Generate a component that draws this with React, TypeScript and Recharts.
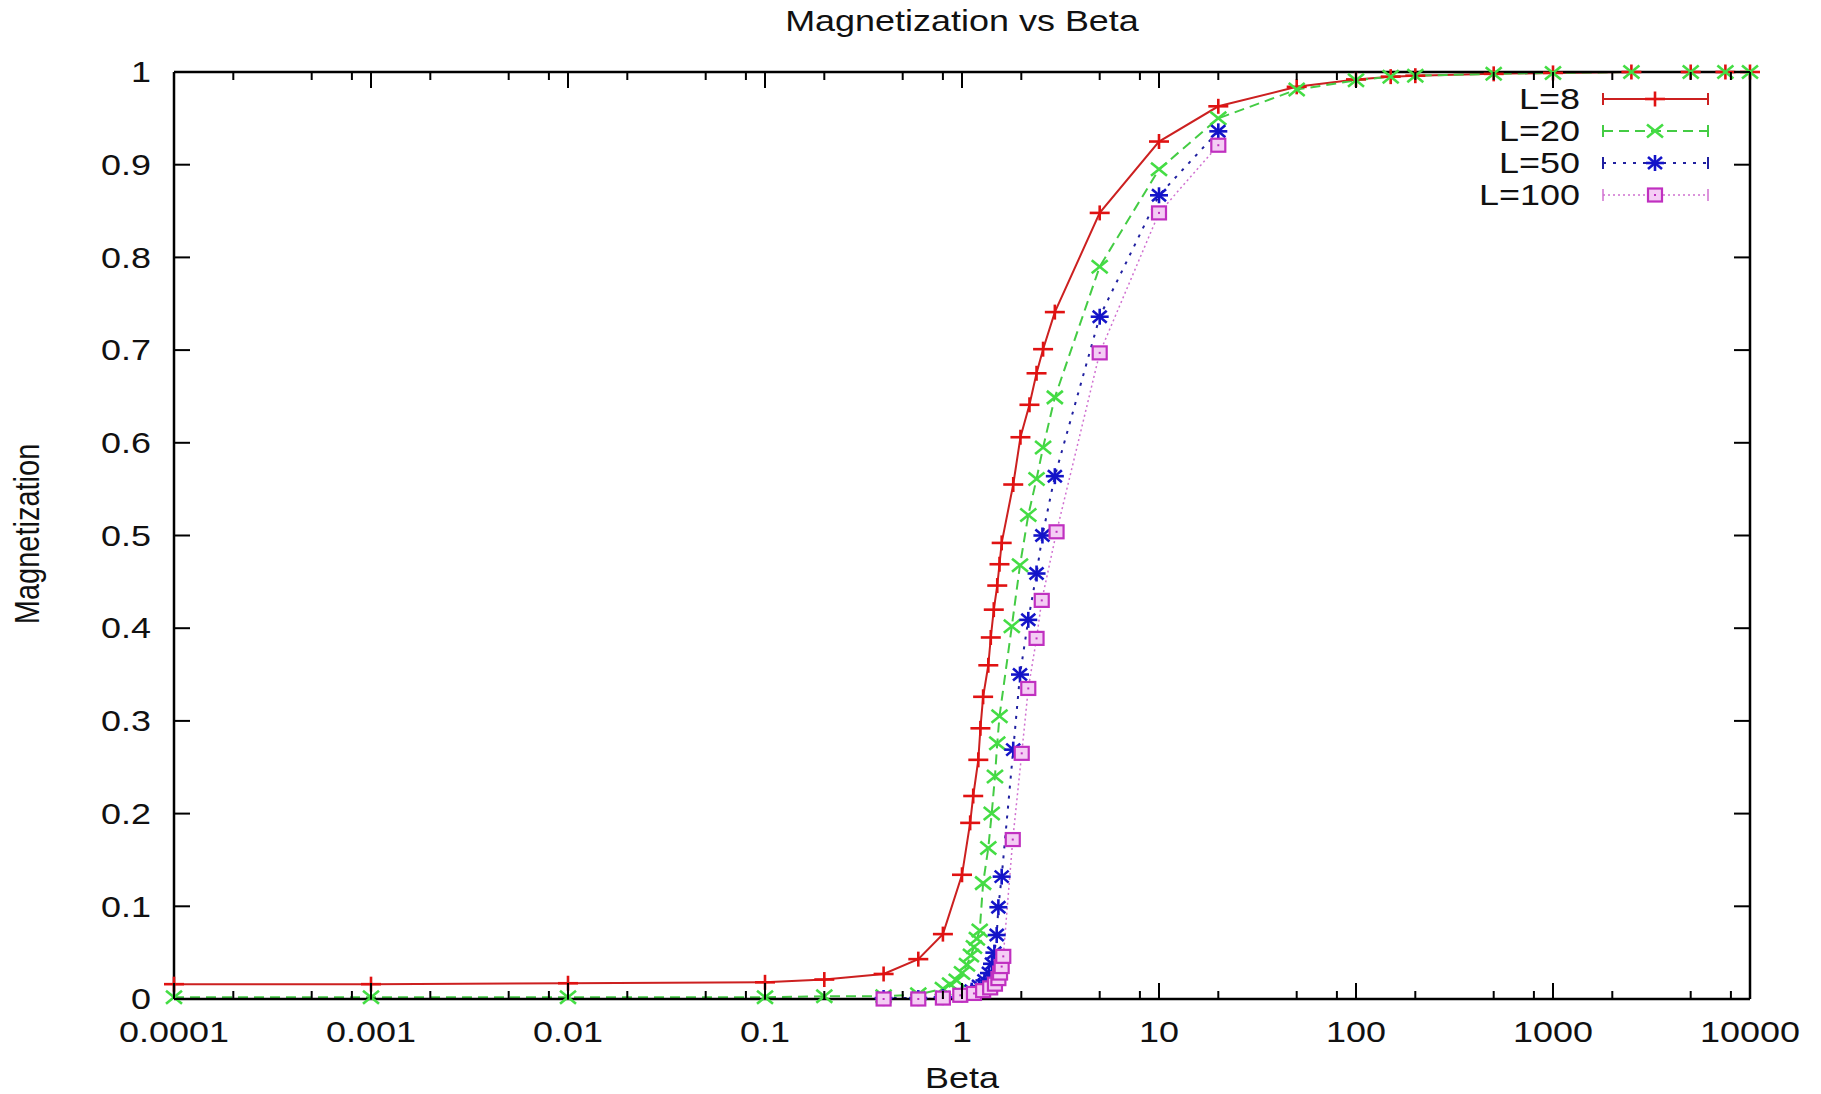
import React from 'react';
import { ComposedChart, Line, XAxis, YAxis, Legend } from 'recharts';

// Datos (beta, magnetización) por tamaño de red
const L8_BETA = [0.0001, 0.001, 0.01, 0.1, 0.2, 0.4, 0.6, 0.8, 1.0, 1.1, 1.14, 1.21, 1.24, 1.28, 1.36, 1.4, 1.45, 1.51, 1.55, 1.59, 1.82, 1.98, 2.2, 2.39, 2.58, 2.96, 5, 10, 20, 50, 100, 150, 200, 500, 1000, 2500, 5000, 7500, 10000];
const L8_M = [0.016, 0.016, 0.017, 0.018, 0.021, 0.027, 0.043, 0.070, 0.134, 0.190, 0.219, 0.258, 0.292, 0.326, 0.360, 0.390, 0.420, 0.446, 0.469, 0.492, 0.555, 0.606, 0.641, 0.675, 0.701, 0.741, 0.848, 0.925, 0.963, 0.984, 0.992, 0.995, 0.996, 0.998, 0.999, 1, 1, 1, 1];

const L20_BETA = [0.0001, 0.001, 0.01, 0.1, 0.2, 0.4, 0.6, 0.8, 0.87, 0.94, 1.0, 1.06, 1.11, 1.15, 1.19, 1.23, 1.28, 1.36, 1.415, 1.47, 1.51, 1.55, 1.79, 1.97, 2.17, 2.39, 2.58, 2.96, 5, 10, 20, 50, 100, 150, 200, 500, 1000, 2500, 5000, 7500, 10000];
const L20_M = [0.002, 0.002, 0.002, 0.002, 0.003, 0.003, 0.005, 0.011, 0.016, 0.020, 0.028, 0.037, 0.047, 0.056, 0.065, 0.074, 0.125, 0.163, 0.200, 0.240, 0.276, 0.305, 0.402, 0.468, 0.522, 0.561, 0.595, 0.649, 0.790, 0.895, 0.950, 0.981, 0.991, 0.995, 0.996, 0.998, 0.999, 1, 1, 1, 1];

const L50_BETA = [0.4, 0.6, 0.8, 1.0, 1.12, 1.22, 1.3, 1.37, 1.42, 1.46, 1.5, 1.53, 1.59, 1.82, 1.97, 2.17, 2.39, 2.56, 2.96, 5, 10, 20];
const L50_M = [0.001, 0.001, 0.002, 0.005, 0.009, 0.014, 0.020, 0.028, 0.038, 0.050, 0.069, 0.099, 0.132, 0.269, 0.350, 0.409, 0.459, 0.500, 0.564, 0.736, 0.867, 0.936];

const L100_BETA = [0.4, 0.6, 0.8, 0.98, 1.15, 1.28, 1.39, 1.47, 1.53, 1.56, 1.59, 1.62, 1.81, 2.01, 2.17, 2.39, 2.54, 3.02, 5, 10, 20];
const L100_M = [0.0, 0.0, 0.001, 0.004, 0.006, 0.009, 0.012, 0.016, 0.022, 0.028, 0.035, 0.046, 0.172, 0.265, 0.335, 0.389, 0.430, 0.504, 0.697, 0.848, 0.921];

const X_TICKS = [0.0001, 0.001, 0.01, 0.1, 1, 10, 100, 1000, 10000];
const X_LABELS = ['0.0001', '0.001', '0.01', '0.1', '1', '10', '100', '1000', '10000'];
const X_MINOR = [2, 5, 8];
const Y_TICKS = [0, 0.1, 0.2, 0.3, 0.4, 0.5, 0.6, 0.7, 0.8, 0.9, 1];
const Y_LABELS = ['0', '0.1', '0.2', '0.3', '0.4', '0.5', '0.6', '0.7', '0.8', '0.9', '1'];

const SERIES_NAMES = ['L=8', 'L=20', 'L=50', 'L=100'];

const FONT = '"Liberation Sans", Arial, sans-serif';
const FS = 29;
const SX = 1.24; // la figura original está estirada en horizontal

type Kind = 'plus' | 'cross' | 'star' | 'box';

const STYLE: { kind: Kind; mark: string; line: string; dash?: string; width: number }[] = [
  { kind: 'plus', mark: '#e01212', line: '#cc2020', width: 2 },
  { kind: 'cross', mark: '#44dd44', line: '#44cc44', dash: '10 6', width: 2 },
  { kind: 'star', mark: '#1414c8', line: '#2020a0', dash: '3 7', width: 2 },
  { kind: 'box', mark: '#c030c0', line: '#d070d0', dash: '2 3', width: 1.5 },
];

const pts = (b: number[], m: number[]) => b.map((x, i) => ({ b: x, m: m[i] }));

const allXTicks = X_TICKS.flatMap((v, i) => (i < X_TICKS.length - 1 ? [v, ...X_MINOR.map(k => v * k)] : [v]));
const majorIndex = (v: number) => X_TICKS.findIndex(t => Math.abs(t - v) / t < 1e-6);

const STxt = ({ x, y, anchor = 'middle', rotate = 0, children }: any) => (
  <text
    transform={`translate(${x},${y}) scale(${SX},1)${rotate ? ` rotate(${rotate})` : ''}`}
    textAnchor={anchor} dominantBaseline="central" fontFamily={FONT} fontSize={FS} fill="#111">
    {children}
  </text>
);

const Mark = ({ kind, cx, cy, color }: { kind: Kind; cx: number; cy: number; color: string }) => {
  if (cx == null || cy == null) return null;
  if (kind === 'plus') return (
    <g stroke={color} strokeWidth={2.6}>
      <line x1={cx - 10} x2={cx + 10} y1={cy} y2={cy}/>
      <line x1={cx} x2={cx} y1={cy - 7.5} y2={cy + 7.5}/>
    </g>
  );
  if (kind === 'cross') return (
    <g stroke={color} strokeWidth={2.6}>
      <line x1={cx - 8} x2={cx + 8} y1={cy - 6.5} y2={cy + 6.5}/>
      <line x1={cx - 8} x2={cx + 8} y1={cy + 6.5} y2={cy - 6.5}/>
    </g>
  );
  if (kind === 'star') return (
    <g stroke={color} strokeWidth={2.6}>
      <line x1={cx - 9} x2={cx + 9} y1={cy} y2={cy}/>
      <line x1={cx} x2={cx} y1={cy - 8} y2={cy + 8}/>
      <line x1={cx - 7} x2={cx + 7} y1={cy - 6} y2={cy + 6}/>
      <line x1={cx - 7} x2={cx + 7} y1={cy + 6} y2={cy - 6}/>
    </g>
  );
  return (
    <g>
      <rect x={cx - 7} y={cy - 6.5} width={14} height={13} fill="#f4cdf4" stroke={color} strokeWidth={2.2}/>
      <rect x={cx - 1} y={cy - 1} width={2} height={2} fill={color}/>
    </g>
  );
};

const dotFor = (kind: Kind, color: string) => (p: any) =>
  <Mark key={`${kind}-${p.index}`} kind={kind} cx={p.cx} cy={p.cy} color={color}/>;

// ticks hacia dentro + etiquetas (estilo gnuplot)
const BottomTick = ({ x, y, payload }: any) => {
  const i = majorIndex(payload.value);
  return (
    <g>
      <line x1={x} x2={x} y1={y} y2={y - (i >= 0 ? 16 : 8)} stroke="#000" strokeWidth={2}/>
      {i >= 0 && <STxt x={x} y={y + 33}>{X_LABELS[i]}</STxt>}
    </g>
  );
};
const TopTick = ({ x, y, payload }: any) => {
  const i = majorIndex(payload.value);
  return <line x1={x} x2={x} y1={y} y2={y + (i >= 0 ? 16 : 8)} stroke="#000" strokeWidth={2}/>;
};
const LeftTick = ({ x, y, payload, index }: any) => (
  <g>
    <line x1={x} x2={x + 16} y1={y} y2={y} stroke="#000" strokeWidth={2}/>
    <STxt x={x - 23} y={y} anchor="end">{Y_LABELS[index] ?? payload.value}</STxt>
  </g>
);
const RightTick = ({ x, y }: any) => <line x1={x} x2={x - 16} y1={y} y2={y} stroke="#000" strokeWidth={2}/>;

const LegendBox = () => (
  <svg width={320} height={140} style={{ overflow: 'visible', display: 'block' }}>
    {SERIES_NAMES.map((name, i) => {
      const s = STYLE[i];
      const y = 21 + i * 32;
      return (
        <g key={name}>
          <STxt x={140} y={y} anchor="end">{name}</STxt>
          <line x1={163} x2={268} y1={y} y2={y} stroke={s.line} strokeWidth={s.width} strokeDasharray={s.dash}/>
          <line x1={163} x2={163} y1={y - 6} y2={y + 6} stroke={s.line} strokeWidth={s.width}/>
          <line x1={268} x2={268} y1={y - 6} y2={y + 6} stroke={s.line} strokeWidth={s.width}/>
          <Mark kind={s.kind} cx={215} cy={y} color={s.mark}/>
        </g>
      );
    })}
  </svg>
);

const SERIES_DATA = [pts(L8_BETA, L8_M), pts(L20_BETA, L20_M), pts(L50_BETA, L50_M), pts(L100_BETA, L100_M)];

export default function App() {
  return (
    <div style={{ position: 'absolute', left: 0, top: 0, width: 1821, height: 1094, background: '#fff' }}>
      <ComposedChart width={1821} height={1094} margin={{ top: 71, right: 70, bottom: 94, left: 173 }}>
        <XAxis dataKey="b" type="number" scale="log" domain={[0.0001, 10000]} ticks={allXTicks} interval={0}
          height={1} tickSize={0} tickMargin={0} tickLine={false} tick={<BottomTick/>}
          axisLine={{ stroke: '#000', strokeWidth: 2.5 }}/>
        <XAxis xAxisId="top" orientation="top" dataKey="b" type="number" scale="log" domain={[0.0001, 10000]}
          allowDataOverflow ticks={allXTicks} interval={0} height={1} tickSize={0} tickMargin={0} tickLine={false}
          tick={<TopTick/>} axisLine={{ stroke: '#000', strokeWidth: 2.5 }}/>
        <YAxis type="number" domain={[0, 1]} ticks={Y_TICKS} interval={0} width={1} tickSize={0} tickMargin={0}
          tickLine={false} tick={<LeftTick/>} axisLine={{ stroke: '#000', strokeWidth: 2.5 }}/>
        <YAxis yAxisId="right" orientation="right" type="number" domain={[0, 1]} allowDataOverflow ticks={Y_TICKS}
          interval={0} width={1} tickSize={0} tickMargin={0} tickLine={false} tick={<RightTick/>}
          axisLine={{ stroke: '#000', strokeWidth: 2.5 }}/>
        <Legend verticalAlign="middle" align="center" content={() => <LegendBox/>}
          wrapperStyle={{ position: 'absolute', left: 1440, top: 78, width: 320, height: 140 }}/>
        {SERIES_DATA.map((d, i) => (
          <Line key={SERIES_NAMES[i]} name={SERIES_NAMES[i]} data={d} dataKey="m" type="linear"
            stroke={STYLE[i].line} strokeWidth={STYLE[i].width} strokeDasharray={STYLE[i].dash}
            dot={dotFor(STYLE[i].kind, STYLE[i].mark)} activeDot={false} isAnimationActive={false}/>
        ))}
      </ComposedChart>
      <svg width={1821} height={1094} style={{ position: 'absolute', left: 0, top: 0, pointerEvents: 'none' }}>
        <STxt x={962} y={21}>Magnetization vs Beta</STxt>
        <STxt x={962} y={1078}>Beta</STxt>
        <STxt x={26} y={534} rotate={-90}>Magnetization</STxt>
      </svg>
    </div>
  );
}
